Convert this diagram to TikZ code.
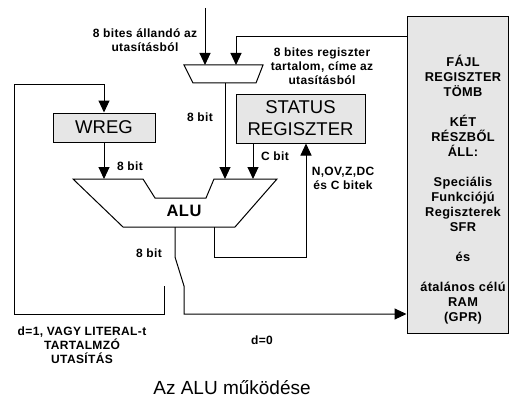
\documentclass[tikz,border=0pt]{standalone}
\usepackage{fontspec}
\setmainfont{Liberation Sans}
\newfontfamily\lblfont[LetterSpace=3]{Liberation Sans}
\usetikzlibrary{arrows.meta}
\definecolor{boxgray}{RGB}{230,230,230}
\tikzset{
  lbl/.style={font=\lblfont\bfseries\fontsize{12}{14}\selectfont, align=center, inner sep=0pt},
  regbox/.style={draw, fill=boxgray, font=\fontsize{18.5}{22}\selectfont, align=center, inner sep=0pt},
  arr/.style={-{Triangle[width=11pt,length=12pt]}},
}
\begin{document}
\begin{tikzpicture}[x=1pt,y=-1pt,line width=1pt]
  \useasboundingbox (0,0) rectangle (510,401);
  % registers
  \node[regbox, minimum width=102pt, minimum height=29pt] (wreg) at (104,127.5) {WREG};
  \node[regbox, minimum width=129pt, minimum height=49pt] (status) at (300.5,118.5) {STATUS\\REGISZTER};
  \node[regbox, minimum width=101pt, minimum height=316pt] (file) at (457.5,175) {};
  \node[lbl, font=\lblfont\bfseries\fontsize{12.8}{15}\selectfont, anchor=north] (filetext) at (463,55)
    {FÁJL\\REGISZTER\\TÖMB\\[15pt]KÉT\\RÉSZBŐL\\ÁLL:\\[15pt]Speciális\\Funkciójú\\Regiszterek\\SFR\\[15pt]és\\[15pt]átalános célú\\RAM\\(GPR)};
  % multiplexer
  \coordinate (M1) at (184,65);
  \coordinate (M2) at (263,65);
  \coordinate (M3) at (256,83);
  \coordinate (M4) at (193,83);
  \draw (M1)--(M2)--(M3)--(M4)--cycle;
  \coordinate (muxa) at (205,65);
  \coordinate (muxb) at (236,65);
  \coordinate (muxout) at (225,83);
  % ALU
  \draw (73,179)--(143,179)--(155,198)--(206,198)--(214,179)--(277,179)--(235,227)--(123,227)--cycle;
  \node[font=\lblfont\bfseries\fontsize{16.5}{18}\selectfont, inner sep=0pt] (alu) at (184,211) {ALU};
  \coordinate (alua) at (104,179);
  \coordinate (alub) at (225,179);
  \coordinate (aluc) at (253,179);
  \coordinate (aluout) at (175,227);
  \coordinate (aluflag) at (214,227);
  % connectors
  \coordinate (constin) at (205,8);
  \draw[arr] (constin) -- (muxa);
  \coordinate (regout) at (407,37);
  \draw[arr] (regout) -- (236,37) -- (muxb);
  \draw[arr] (muxout) -- (alub);
  \draw[arr] (wreg.south) -- (alua);
  \draw[arr] (status.south -| aluc) -- (aluc);
  \coordinate (wback) at (164,286);
  \draw[arr] (wback) -- (164,314) -- (14,314) -- (14,85) -- (104,85) -- (wreg.north);
  \draw[arr] (aluout) -- (175,257) -- (184,286) -- (184,314) -- (file.west |- 0,314);
  \draw[arr] (aluflag) -- (214,257) -- (306,257) -- (status.south -| 306,0);
  % labels
  \node[lbl] (constlbl) at (145,40) {8 bites állandó az\\utasításból};
  \node[lbl] (reglbl) at (322,66) {8 bites regiszter\\tartalom, címe az\\utasításból};
  \node[lbl] (muxbit) at (200,117) {8 bit};
  \node[lbl] (wregbit) at (130,166) {8 bit};
  \node[lbl] (cbit) at (275,156) {C bit};
  \node[lbl] (flags) at (343,178) {N,OV,Z,DC\\és C bitek};
  \node[lbl] (outbit) at (149,253) {8 bit};
  \node[lbl] (done) at (82,345) {d=1, VAGY LITERAL-t\\TARTALMZÓ\\UTASÍTÁS};
  \node[lbl] (dzero) at (262,340) {d=0};
  \node[font=\fontsize{19}{22}\selectfont, inner sep=0pt] (caption) at (232,388) {Az ALU működése};
\end{tikzpicture}
\end{document}
